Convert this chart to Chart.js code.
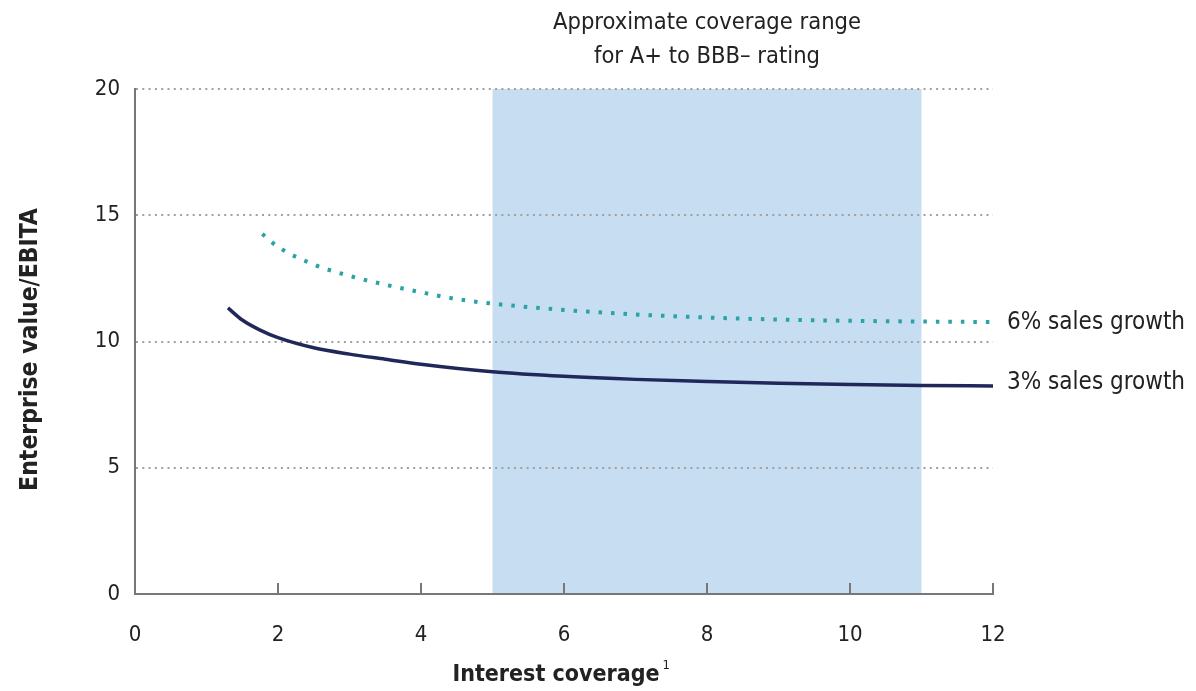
<!DOCTYPE html>
<html>
<head>
    <title>Enterprise value vs interest coverage</title>
    <style>
        body {
            margin: 0;
            padding: 0;
            background: #ffffff;
        }
        #wrap {
            width: 1196px;
            height: 691px;
        }
    </style>
    <script src="https://cdn.jsdelivr.net/npm/chart.js"></script>
</head>
<body>
    <div id="wrap"><canvas id="evChart"></canvas></div>

    <script>
        // Values
        const coverage3 = [1.3, 1.5, 1.75, 2, 2.5, 3, 3.5, 4, 5, 6, 7, 8, 9, 10, 11, 12];
        const evEbita3 = [11.33, 10.85, 10.45, 10.15, 9.75, 9.5, 9.3, 9.1, 8.8, 8.62, 8.5, 8.42, 8.35, 8.3, 8.26, 8.24];

        const coverage6 = [1.78, 2, 2.5, 3, 3.5, 4, 4.5, 5, 6, 7, 8, 9, 10, 11, 12];
        const evEbita6 = [14.26, 13.75, 13.05, 12.6, 12.25, 11.95, 11.68, 11.5, 11.25, 11.07, 10.95, 10.87, 10.82, 10.79, 10.77];

        const seriesLabels = ['3% sales growth', '6% sales growth'];
        const ratingRange = [5, 11];
        const rangeTitle = ['Approximate coverage range', 'for A+ to BBB\u2013 rating'];
        const xTitle = 'Interest coverage';
        const yTitle = 'Enterprise value/EBITA';

        const FONT = "'Liberation Sans Narrow', 'DejaVu Sans Condensed', 'Arial Narrow', sans-serif";
        const navy = '#1f2859';
        const teal = '#2ba3a6';

        const toPoints = (xs, ys) => xs.map((x, i) => ({ x: x, y: ys[i] }));

        // shaded band, drawn before the grid so the dotted lines show on top
        const bandPlugin = {
            id: 'band',
            beforeDraw(chart) {
                const { ctx, chartArea, scales } = chart;
                const x0 = scales.x.getPixelForValue(ratingRange[0]);
                const x1 = scales.x.getPixelForValue(ratingRange[1]);
                ctx.save();
                ctx.fillStyle = '#c6ddf2';
                ctx.fillRect(x0, chartArea.top, x1 - x0, chartArea.bottom - chartArea.top);
                ctx.restore();
            }
        };

        // titles, inner tick marks and end-of-line labels
        const textPlugin = {
            id: 'texts',
            afterDraw(chart) {
                const { ctx, chartArea, scales } = chart;
                ctx.save();

                // inward x ticks
                ctx.strokeStyle = '#777';
                ctx.lineWidth = 2;
                scales.x.ticks.forEach(t => {
                    if (t.value === 0) return;
                    const px = scales.x.getPixelForValue(t.value);
                    ctx.beginPath();
                    ctx.moveTo(px, chartArea.bottom);
                    ctx.lineTo(px, chartArea.bottom - 11);
                    ctx.stroke();
                });

                // band title
                const bx = (scales.x.getPixelForValue(ratingRange[0]) + scales.x.getPixelForValue(ratingRange[1])) / 2;
                ctx.fillStyle = '#222';
                ctx.font = '23.5px ' + FONT;
                ctx.textAlign = 'center';
                ctx.textBaseline = 'middle';
                ctx.fillText(rangeTitle[0], bx, 23);
                ctx.fillText(rangeTitle[1], bx, 57);

                // series labels at the right end of each line
                ctx.textAlign = 'left';
                ctx.font = '24px ' + FONT;
                chart.data.datasets.forEach((ds, i) => {
                    const last = ds.data[ds.data.length - 1];
                    const px = scales.x.getPixelForValue(last.x);
                    const py = scales.y.getPixelForValue(last.y);
                    ctx.fillText(seriesLabels[i], px + 14, py + (i === 0 ? -3 : 1));
                });

                // x axis title with footnote
                ctx.font = 'bold 23px ' + FONT;
                const cx = (chartArea.left + chartArea.right) / 2;
                const w = ctx.measureText(xTitle).width;
                ctx.textAlign = 'left';
                ctx.fillText(xTitle, cx - w / 2 - 8, 675);
                ctx.font = '13px ' + FONT;
                ctx.fillText('1', cx + w / 2 - 5, 666);

                // y axis title
                ctx.font = 'bold 24.5px ' + FONT;
                ctx.translate(31, (chartArea.top + chartArea.bottom) / 2 + 8);
                ctx.rotate(-Math.PI / 2);
                ctx.textAlign = 'center';
                ctx.fillText(yTitle, 0, 0);

                ctx.restore();
            }
        };

        const ctx = document.getElementById('evChart').getContext('2d');
        new Chart(ctx, {
            type: 'line',
            data: {
                datasets: [
                    {
                        label: seriesLabels[0],
                        data: toPoints(coverage3, evEbita3),
                        borderColor: navy,
                        borderWidth: 3.5,
                        pointRadius: 0,
                        cubicInterpolationMode: 'monotone',
                        fill: false
                    },
                    {
                        label: seriesLabels[1],
                        data: toPoints(coverage6, evEbita6),
                        borderColor: teal,
                        borderWidth: 4,
                        borderDash: [3.5, 9],
                        pointRadius: 0,
                        cubicInterpolationMode: 'monotone',
                        fill: false
                    }
                ]
            },
            options: {
                responsive: true,
                maintainAspectRatio: false,
                animation: false,
                events: [],
                layout: {
                    padding: { left: 0, right: 203, top: 89, bottom: 0 }
                },
                plugins: {
                    legend: { display: false },
                    tooltip: { enabled: false }
                },
                scales: {
                    x: {
                        type: 'linear',
                        min: 0,
                        max: 12,
                        afterFit: (scale) => { scale.height = 97; },
                        border: { display: true, color: '#777', width: 2 },
                        grid: { display: false, drawTicks: false },
                        ticks: {
                            stepSize: 2,
                            padding: 28,
                            color: '#222',
                            font: { family: FONT, size: 22 }
                        }
                    },
                    y: {
                        min: 0,
                        max: 20,
                        afterFit: (scale) => { scale.width = 135; },
                        // in v4 border.dash sets the dash of the grid lines
                        border: { display: true, color: '#777', width: 2, dash: [2, 4.3] },
                        grid: {
                            drawTicks: false,
                            lineWidth: 2,
                            color: (c) => c.tick && c.tick.value === 0 ? 'rgba(0,0,0,0)' : '#a0a0a0'
                        },
                        ticks: {
                            stepSize: 5,
                            padding: 15,
                            color: '#222',
                            font: { family: FONT, size: 22 }
                        }
                    }
                }
            },
            plugins: [bandPlugin, textPlugin]
        });
    </script>
</body>
</html>
